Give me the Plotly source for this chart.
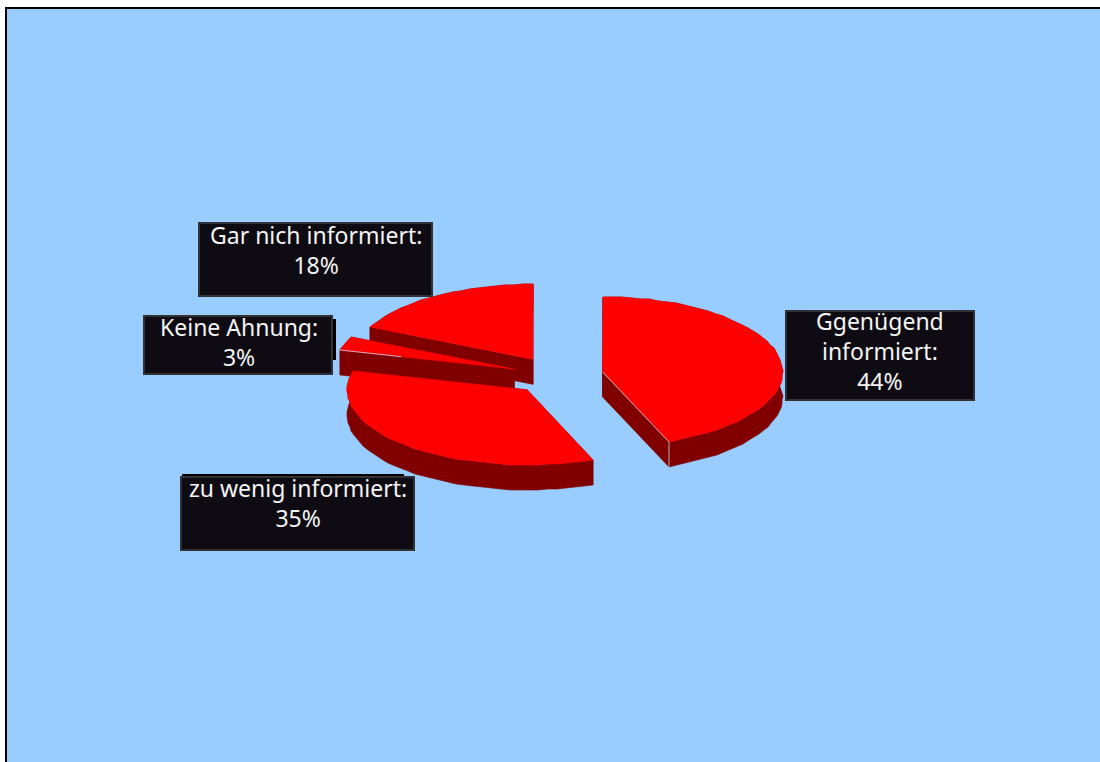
import math
import plotly.graph_objects as go

# Survey shares, clockwise from twelve o'clock
categories = ["Ggenügend<br>informiert", "zu wenig informiert", "Keine Ahnung", "Gar nich informiert"]
shares = [44, 35, 3, 18]
explode = [0.255, 0.255, 0.255, 0.255]

BG = "#99ccff"
TOP = "#ff0000"
SIDE = "#800000"
EDGE = "#c9d8f2"
BOX = "#0e0c12"
BOX_EDGE = "#323236"

CX, CY = 557.5, 375.5   # pie centre
RX, RY = 180, 75        # tilted-disc radii
DEPTH = 25
STEP = 3.0              # facet size of the rim, degrees


def rim_point(cx, cy, deg):
    a = math.radians(deg)
    return round(cx + RX * math.sin(a)), round(cy - RY * math.cos(a))


def poly_trace(points, color):
    xs = [p[0] for p in points] + [points[0][0]]
    ys = [p[1] for p in points] + [points[0][1]]
    return go.Scatter(x=xs, y=ys, mode="lines", fill="toself", fillcolor=color,
                      line=dict(color=color, width=0.6), hoverinfo="skip", showlegend=False)


def edge_trace(points):
    return go.Scatter(x=[p[0] for p in points], y=[p[1] for p in points], mode="lines",
                      line=dict(color=EDGE, width=0.8), hoverinfo="skip", showlegend=False)


# Work out each wedge from its share
wedges = []
start = 0.0
for share, ex in zip(shares, explode):
    sweep = share * 3.6
    mid = math.radians(start + sweep / 2)
    cx = CX + ex * RX * math.sin(mid)
    cy = CY - ex * RY * math.cos(mid)
    n = max(2, math.ceil(sweep / STEP))
    arc = [rim_point(cx, cy, start + sweep * i / n) for i in range(n + 1)]
    wedges.append(dict(cx=cx, cy=cy, arc=arc))
    start += sweep

fig = go.Figure()

# Painter's order: back wedges first
for idx in (3, 2, 1, 0):
    w = wedges[idx]
    c = (w["cx"], w["cy"])
    arc = w["arc"]
    down = lambda p: (p[0], p[1] + DEPTH)
    fig.add_trace(poly_trace(arc + [down(p) for p in reversed(arc)], SIDE))
    for p in (arc[0], arc[-1]):
        fig.add_trace(poly_trace([c, p, down(p), down(c)], SIDE))
    fig.add_trace(poly_trace([c] + arc, TOP))

# Pale highlights along two cut faces
big, small = wedges[0], wedges[2]
tip = big["arc"][-1]
fig.add_trace(edge_trace([(big["cx"], big["cy"]), tip, (tip[0], tip[1] + DEPTH)]))
p0 = small["arc"][0]
fig.add_trace(edge_trace([p0, (p0[0] + 0.35 * (small["cx"] - p0[0]), p0[1] + 0.35 * (small["cy"] - p0[1]))]))

# Label boxes: left, top, right, bottom, text centre, top of the text block
boxes = [
    (786, 311, 974, 400, 880, 305),
    (181, 477, 414, 550, 298, 472),
    (144, 316, 332, 374, 239, 311),
    (199, 223, 432, 296, 315.5, 219),
]
slivers = [(333, 319, 336, 360), (182, 474, 404, 477)]

shapes = []
for x0, y0, x1, y1 in slivers:
    shapes.append(dict(type="rect", xref="x", yref="y", x0=x0, y0=y0, x1=x1, y1=y1,
                       fillcolor="#000000", line=dict(width=0), layer="above"))
annotations = []
for (x0, y0, x1, y1, xc, yt), name, share in zip(boxes, categories, shares):
    shapes.append(dict(type="rect", xref="x", yref="y", x0=x0, y0=y0, x1=x1, y1=y1,
                       fillcolor=BOX, line=dict(color=BOX_EDGE, width=2), layer="above"))
    annotations.append(dict(x=xc, y=yt, xref="x", yref="y", xanchor="center", yanchor="top",
                            text=f"{name}:<br>{share}%", showarrow=False, align="center",
                            borderpad=0, borderwidth=0,
                            font=dict(family="Noto Sans", size=23, color="#f4f4f4")))

fig.update_layout(
    width=1100, height=762, autosize=False,
    margin=dict(l=7, r=0, t=9, b=0, pad=0),
    paper_bgcolor="#ffffff", plot_bgcolor=BG,
    showlegend=False, shapes=shapes, annotations=annotations,
    xaxis=dict(range=[7, 1100], visible=True, showticklabels=False, ticks="", showgrid=False,
               zeroline=False, showline=True, linecolor="#000000", linewidth=2, side="top", fixedrange=True),
    yaxis=dict(range=[762, 9], visible=True, showticklabels=False, ticks="", showgrid=False,
               zeroline=False, showline=True, linecolor="#000000", linewidth=2, side="left", fixedrange=True),
)

fig.write_html("out.html", config=dict(displayModeBar=False))
